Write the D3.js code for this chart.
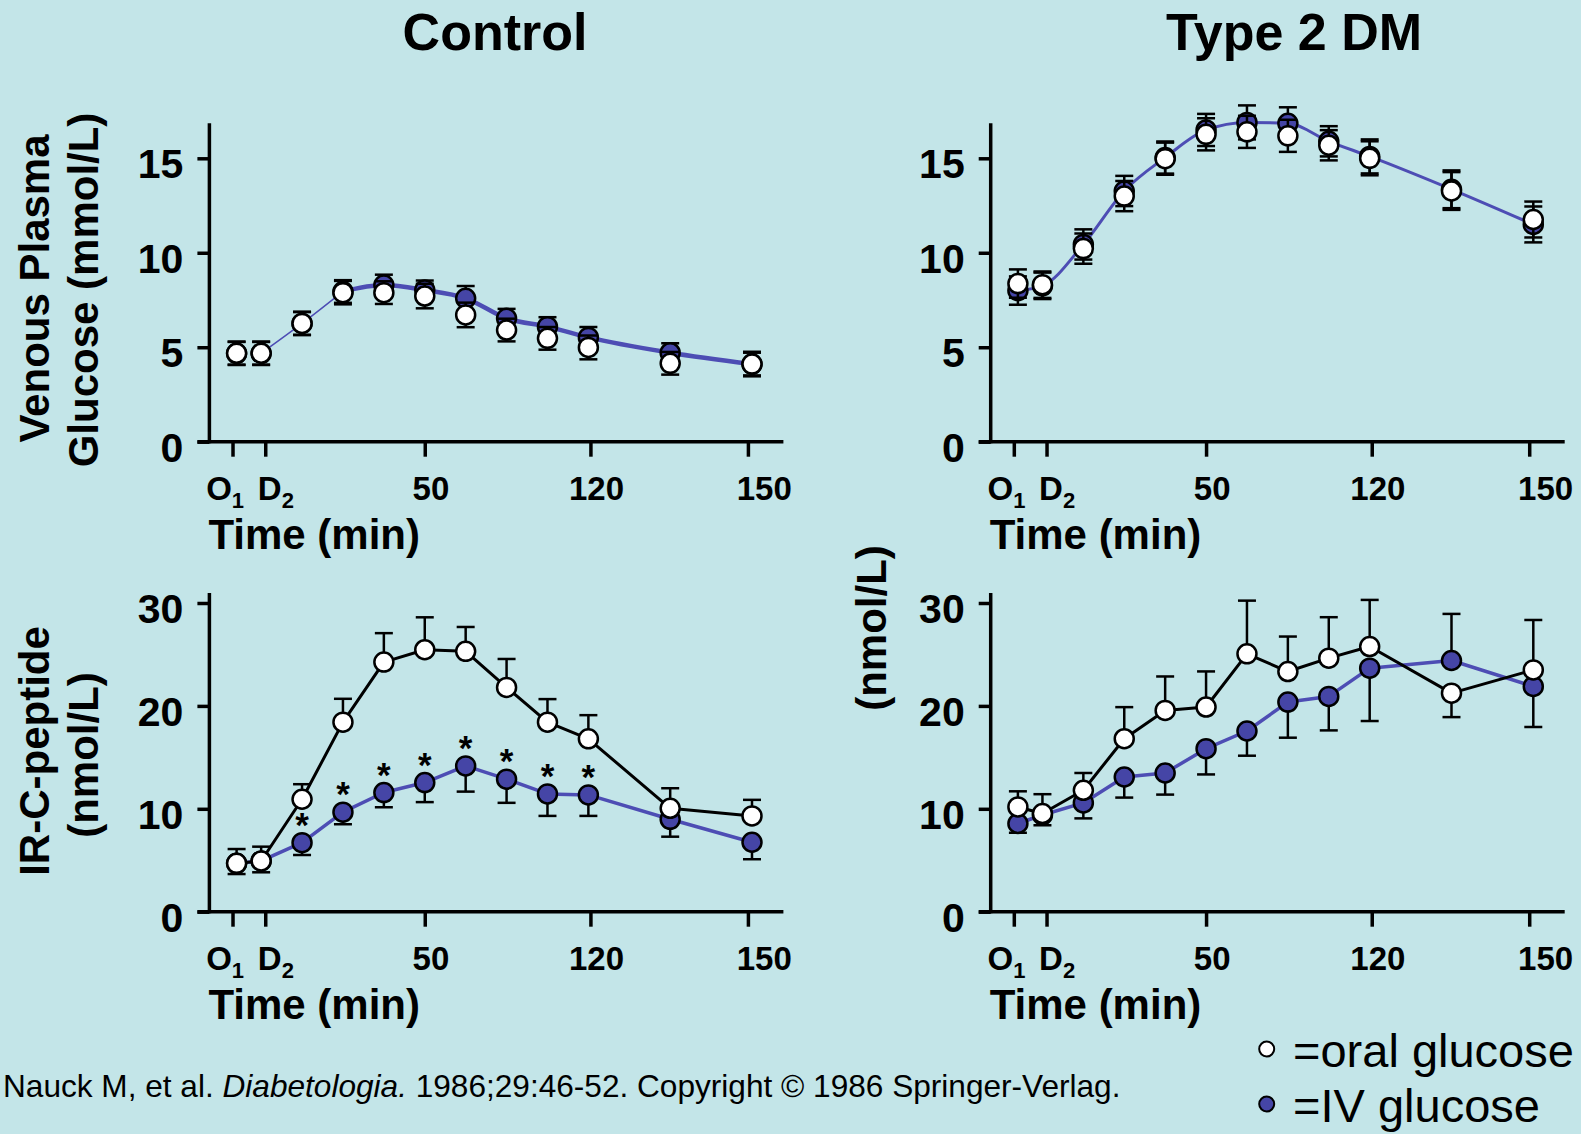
<!DOCTYPE html>
<html lang="en">
<head>
<meta charset="UTF-8">
<title>Oral vs IV glucose: glucose and C-peptide</title>
<script src="https://d3js.org/d3.v7.min.js"></script>
<style>
  body { margin: 0; background: #c3e5e8; }
  svg { display: block; font-family: "Liberation Sans", Arial, sans-serif; }
</style>
</head>
<body>
<div id="chart"></div>
<script>

// sampling times (min), placed as on the drawn axis
const times = [-6, 0, 10, 20, 30, 40, 50, 60, 70, 80, 100, 120];

// x tick marks and their labels
const tickTimes = [-7, 1, 40, 80.5, 119];
const tickLabelTimes = [-8.8, 3.6, 41.5, 82, 123];
const tickLabels = ["O1", "D2", "50", "120", "150"];

const glucoseTicks = [0, 5, 10, 15];
const peptideTicks = [0, 10, 20, 30];

// Control - venous plasma glucose (mmol/L)
const ctrlGluOral    = [4.68, 4.68, 6.26, 7.89, 7.89, 7.71, 6.71, 5.91, 5.47, 4.99, 4.15, 4.11];
const ctrlGluOralErr = [0.62, 0.62, 0.62, 0.62, 0.6, 0.65, 0.65, 0.6, 0.6, 0.63, 0.6, 0.65];
const ctrlGluIV      = [4.68, 4.68, 6.26, 7.95, 8.29, 8.03, 7.59, 6.53, 6.09, 5.52, 4.71, 4.11];
const ctrlGluIVErr   = [0.6, 0.6, 0.6, 0.6, 0.55, 0.5, 0.65, 0.5, 0.5, 0.55, 0.5, 0.6];

// Type 2 DM - venous plasma glucose (mmol/L)
const dmGluOral    = [8.37, 8.31, 10.22, 13.0, 14.98, 16.27, 16.4, 16.19, 15.69, 15.0, 13.27, 11.76];
const dmGluOralErr = [0.75, 0.7, 0.8, 0.8, 0.85, 0.85, 0.85, 0.85, 0.8, 0.9, 1.0, 0.95];
const dmGluIV      = [8.0, 8.25, 10.44, 13.27, 15.04, 16.5, 16.9, 16.85, 15.9, 15.1, 13.36, 11.5];
const dmGluIVErr   = [0.75, 0.7, 0.8, 0.8, 0.85, 0.85, 0.9, 0.85, 0.8, 0.9, 1.0, 0.95];

// Control - IR-C-peptide (nmol/L)
const ctrlPepOral     = [4.7, 4.93, 10.93, 18.42, 24.26, 25.46, 25.3, 21.8, 18.42, 16.8, 10.05, 9.31];
const ctrlPepOralUp   = [1.39, 1.39, 1.46, 2.27, 2.81, 3.15, 2.37, 2.76, 2.24, 2.3, 1.95, 1.56];
const ctrlPepOralDown = [0, 0, 0, 0, 0, 0, 0, 0, 0, 0, 0, 0];
const ctrlPepIV       = [4.7, 4.93, 6.71, 9.67, 11.58, 12.55, 14.17, 12.88, 11.45, 11.35, 8.98, 6.75];
const ctrlPepIVUp     = [0, 0, 0, 0, 0, 0, 0, 0, 0, 0, 0, 0];
const ctrlPepIVDown   = [1.04, 1.1, 1.2, 1.17, 1.43, 1.9, 2.5, 2.3, 2.14, 2.04, 1.69, 1.65];
const ctrlPepSig      = ["", "", "*", "*", "*", "*", "*", "*", "*", "*", "", ""];

// Type 2 DM - IR-C-peptide (nmol/L)
const dmPepOral     = [10.18, 9.54, 11.8, 16.81, 19.56, 19.89, 25.06, 23.34, 24.64, 25.77, 21.24, 23.5];
const dmPepOralUp   = [1.52, 1.88, 1.68, 3.07, 3.3, 3.46, 5.17, 3.4, 3.98, 4.53, 0, 4.85];
const dmPepOralDown = [0, 0, 0, 0, 0, 0, 0, 0, 0, 0, 2.33, 0];
const dmPepIV       = [8.57, 9.4, 10.57, 13.09, 13.48, 15.84, 17.56, 20.37, 20.92, 23.67, 24.41, 21.89];
const dmPepIVUp     = [0, 0, 0, 0, 0, 0, 0, 0, 0, 0, 4.53, 0];
const dmPepIVDown   = [0.9, 1.0, 1.5, 2.0, 2.1, 2.5, 2.4, 3.46, 3.3, 5.14, 0, 3.94];

const blueFill = "#4545a6";
const blueLine = "#4d4db4";

const W = 1581, H = 1134;

const svg = d3.select("#chart")
  .append("svg")
  .attr("width", W)
  .attr("height", H);

svg.append("rect").attr("width", W).attr("height", H).attr("fill", "#c3e5e8");

// y axis x-position per column, x axis y-position per row
const colX = [209.4, 990.7];
const rowY = [441.7, 911.7];

const panels = [
  {col: 0, row: 0, yMax: 15, ySpan: 283.4, yTop: 16.85, ticks: glucoseTicks, curve: true,
   oral: {v: ctrlGluOral, up: ctrlGluOralErr, down: ctrlGluOralErr},
   iv: {v: ctrlGluIV, up: ctrlGluIVErr, down: ctrlGluIVErr},
   ivLines: [{from: 1, to: 3, w: 1.5}, {from: 3, to: 11, w: 4.5}]},
  {col: 1, row: 0, yMax: 15, ySpan: 283.4, yTop: 16.85, ticks: glucoseTicks, curve: true,
   oral: {v: dmGluOral, up: dmGluOralErr, down: dmGluOralErr},
   iv: {v: dmGluIV, up: dmGluIVErr, down: dmGluIVErr},
   ivLines: [{from: 0, to: 11, w: 3}]},
  {col: 0, row: 1, yMax: 30, ySpan: 308.7, yTop: 30.97, ticks: peptideTicks, curve: false,
   oral: {v: ctrlPepOral, up: ctrlPepOralUp, down: ctrlPepOralDown},
   iv: {v: ctrlPepIV, up: ctrlPepIVUp, down: ctrlPepIVDown},
   ivLines: [{from: 0, to: 11, w: 3.5}], oralLine: 3, sig: ctrlPepSig},
  {col: 1, row: 1, yMax: 30, ySpan: 308.7, yTop: 30.97, ticks: peptideTicks, curve: false,
   oral: {v: dmPepOral, up: dmPepOralUp, down: dmPepOralDown},
   iv: {v: dmPepIV, up: dmPepIVUp, down: dmPepIVDown},
   ivLines: [{from: 0, to: 11, w: 3.5}], oralLine: 3}
];

function drawErrors(g, s, x, y) {
  const rows = times.map((t, i) => ({t: t, v: s.v[i], up: s.up[i], down: s.down[i]}))
    .filter(d => d.up > 0 || d.down > 0);
  const eg = g.append("g").attr("stroke", "#000").attr("stroke-width", 2.5);
  eg.selectAll("line.bar").data(rows).join("line")
    .attr("class", "bar")
    .attr("x1", d => x(d.t)).attr("x2", d => x(d.t))
    .attr("y1", d => y(d.v + d.up)).attr("y2", d => y(d.v - d.down));
  eg.selectAll("line.capUp").data(rows.filter(d => d.up > 0)).join("line")
    .attr("class", "capUp")
    .attr("x1", d => x(d.t) - 9).attr("x2", d => x(d.t) + 9)
    .attr("y1", d => y(d.v + d.up)).attr("y2", d => y(d.v + d.up));
  eg.selectAll("line.capDown").data(rows.filter(d => d.down > 0)).join("line")
    .attr("class", "capDown")
    .attr("x1", d => x(d.t) - 9).attr("x2", d => x(d.t) + 9)
    .attr("y1", d => y(d.v - d.down)).attr("y2", d => y(d.v - d.down));
}

function drawPoints(g, s, x, y, fill) {
  g.append("g").selectAll("circle")
    .data(times.map((t, i) => ({t: t, v: s.v[i]})))
    .join("circle")
    .attr("cx", d => x(d.t))
    .attr("cy", d => y(d.v))
    .attr("r", 9.5)
    .attr("fill", fill)
    .attr("stroke", "#000")
    .attr("stroke-width", 2.5);
}

panels.forEach(p => {
  const ox = colX[p.col], oy = rowY[p.row];
  const x = d3.scaleLinear().domain([-6, 120]).range([ox + 27.2, ox + 542.6]);
  const y = d3.scaleLinear().domain([0, p.yMax]).range([oy, oy - p.ySpan]);
  const g = svg.append("g");

  // axis lines
  g.append("line")
    .attr("x1", ox - 12).attr("x2", ox + 574)
    .attr("y1", oy).attr("y2", oy)
    .attr("stroke", "#000").attr("stroke-width", 3.5);
  g.append("line")
    .attr("x1", ox).attr("x2", ox)
    .attr("y1", oy + 1.5).attr("y2", y(p.yTop))
    .attr("stroke", "#000").attr("stroke-width", 3.5);

  // y axis
  const yAxis = g.append("g")
    .attr("transform", `translate(${ox},0)`)
    .call(d3.axisLeft(y).tickValues(p.ticks).tickSize(12).tickPadding(14).tickFormat(d3.format("d")))
    .attr("font-family", null).attr("font-size", null);
  yAxis.select(".domain").remove();
  yAxis.selectAll("line").attr("stroke", "#000").attr("stroke-width", 3.5);
  yAxis.selectAll("text")
    .attr("dy", "0.48em")
    .attr("fill", "#000")
    .style("font-size", "41px")
    .style("font-weight", "bold");

  // x axis ticks
  const xAxis = g.append("g")
    .attr("transform", `translate(0,${oy})`)
    .call(d3.axisBottom(x).tickValues(tickTimes).tickSize(15).tickFormat(""));
  xAxis.select(".domain").remove();
  xAxis.selectAll("line").attr("stroke", "#000").attr("stroke-width", 3.5);

  // x tick labels (O1 / D2 with subscripts)
  g.selectAll("text.xlab")
    .data(tickLabels)
    .join("text")
    .attr("class", "xlab")
    .attr("x", (d, i) => x(tickLabelTimes[i]))
    .attr("y", oy + 58)
    .attr("text-anchor", "middle")
    .style("font-size", "33px")
    .style("font-weight", "bold")
    .each(function(d) {
      const m = d.match(/^([A-Z])(\d)$/);
      const t = d3.select(this);
      if (m) {
        t.append("tspan").text(m[1]);
        t.append("tspan").attr("dy", 8).style("font-size", "22px").text(m[2]);
      } else {
        t.text(d);
      }
    });

  g.append("text")
    .attr("x", ox - 1)
    .attr("y", oy + 107.6)
    .style("font-size", "42px")
    .style("font-weight", "bold")
    .text("Time (min)");

  // IV glucose series
  p.ivLines.forEach(seg => {
    const line = d3.line()
      .defined((d, i) => i >= seg.from && i <= seg.to)
      .x((d, i) => x(times[i]))
      .y(d => y(d))
      .curve(p.curve ? d3.curveMonotoneX : d3.curveLinear);
    g.append("path")
      .attr("d", line(p.iv.v))
      .attr("fill", "none")
      .attr("stroke", blueLine)
      .attr("stroke-width", seg.w)
      .attr("stroke-linejoin", "round");
  });
  drawErrors(g, p.iv, x, y);
  drawPoints(g, p.iv, x, y, blueFill);

  // oral glucose series
  if (p.oralLine) {
    const line = d3.line().x((d, i) => x(times[i])).y(d => y(d));
    g.append("path")
      .attr("d", line(p.oral.v))
      .attr("fill", "none")
      .attr("stroke", "#000")
      .attr("stroke-width", p.oralLine)
      .attr("stroke-linejoin", "round");
  }
  drawErrors(g, p.oral, x, y);
  drawPoints(g, p.oral, x, y, "#fff");

  // significance marks
  if (p.sig) {
    g.selectAll("text.sig")
      .data(times.map((t, i) => ({t: t, v: p.iv.v[i], s: p.sig[i]})).filter(d => d.s))
      .join("text")
      .attr("class", "sig")
      .attr("x", d => x(d.t))
      .attr("y", d => y(d.v) - 6)
      .attr("text-anchor", "middle")
      .style("font-size", "35px")
      .style("font-weight", "bold")
      .text(d => d.s);
  }
});

// column titles
svg.append("text").attr("x", 495).attr("y", 49.5).attr("text-anchor", "middle")
  .style("font-size", "52px").style("font-weight", "bold").text("Control");
svg.append("text").attr("x", 1294).attr("y", 49.5).attr("text-anchor", "middle")
  .style("font-size", "52px").style("font-weight", "bold").text("Type 2 DM");

// y axis titles
function yTitle(text, bx, cy) {
  svg.append("text")
    .attr("transform", `translate(${bx},${cy}) rotate(-90)`)
    .attr("text-anchor", "middle")
    .style("font-size", "42px")
    .style("font-weight", "bold")
    .text(text);
}
yTitle("Venous Plasma", 49, 288.5);
yTitle("Glucose (mmol/L)", 98, 290);
yTitle("IR-C-peptide", 49, 751);
yTitle("(nmol/L)", 98, 755);
yTitle("(nmol/L)", 886, 628);

// legend
const legend = svg.append("g");
legend.append("circle").attr("cx", 1266.7).attr("cy", 1049).attr("r", 7.5)
  .attr("fill", "#fff").attr("stroke", "#000").attr("stroke-width", 2);
legend.append("text").attr("x", 1293).attr("y", 1067).style("font-size", "47px").text("=oral glucose");
legend.append("circle").attr("cx", 1266.7).attr("cy", 1104).attr("r", 7.5)
  .attr("fill", blueFill).attr("stroke", "#000").attr("stroke-width", 2);
legend.append("text").attr("x", 1293).attr("y", 1122).style("font-size", "47px").text("=IV glucose");

// source line
const src = svg.append("text").attr("x", 3).attr("y", 1097).style("font-size", "31.6px");
src.append("tspan").text("Nauck M, et al. ");
src.append("tspan").style("font-style", "italic").text("Diabetologia.");
src.append("tspan").text(" 1986;29:46-52. Copyright \u00a9 1986 Springer-Verlag.");

</script>
</body>
</html>
